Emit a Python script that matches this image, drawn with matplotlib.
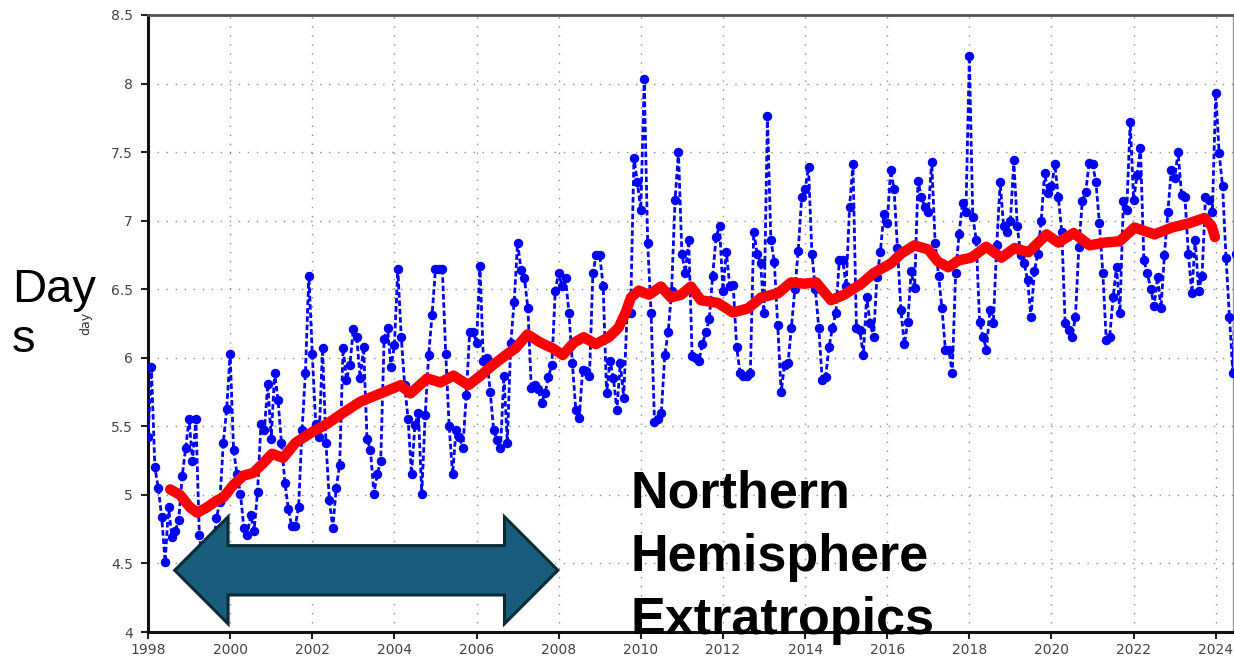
import numpy as np
import matplotlib
matplotlib.use('Agg')
from matplotlib import pyplot as plt
from matplotlib.patches import Polygon

# monthly values, one list per year (Jan..Dec)
v1998 = [5.42, 5.93, 5.2, 5.05, 4.84, 4.51, 4.91, 4.69, 4.74, 4.82, 5.14, 5.34]
v1999 = [5.55, 5.25, 5.55, 4.71, 4.5, 4.4, 4.45, 4.6, 4.83, 4.95, 5.38, 5.63]
v2000 = [6.03, 5.33, 5.15, 5.01, 4.76, 4.71, 4.85, 4.74, 5.02, 5.52, 5.47, 5.81]
v2001 = [5.41, 5.89, 5.69, 5.38, 5.09, 4.9, 4.77, 4.77, 4.91, 5.47, 5.89, 6.6]
v2002 = [6.03, 5.52, 5.42, 6.07, 5.38, 4.96, 4.76, 5.05, 5.22, 6.07, 5.84, 5.95]
v2003 = [6.21, 6.15, 5.85, 6.08, 5.41, 5.33, 5.01, 5.15, 5.25, 6.14, 6.22, 5.93]
v2004 = [6.09, 6.65, 6.15, 5.8, 5.55, 5.15, 5.51, 5.6, 5.01, 5.58, 6.02, 6.31]
v2005 = [6.65, 6.65, 6.65, 6.03, 5.5, 5.15, 5.47, 5.42, 5.34, 5.73, 6.19, 6.19]
v2006 = [6.11, 6.67, 5.98, 6.0, 5.75, 5.47, 5.4, 5.34, 5.87, 5.38, 6.11, 6.41]
v2007 = [6.84, 6.64, 6.58, 6.36, 5.78, 5.8, 5.77, 5.67, 5.74, 5.86, 5.95, 6.49]
v2008 = [6.62, 6.52, 6.58, 6.33, 5.96, 5.62, 5.56, 5.91, 5.9, 5.87, 6.62, 6.75]
v2009 = [6.75, 6.52, 5.74, 5.98, 5.85, 5.62, 5.96, 5.71, 6.33, 6.33, 7.46, 7.28]
v2010 = [7.08, 8.03, 6.84, 6.33, 5.53, 5.55, 5.6, 6.02, 6.19, 6.49, 7.15, 7.5]
v2011 = [6.76, 6.62, 6.86, 6.01, 6.0, 5.98, 6.1, 6.19, 6.28, 6.6, 6.88, 6.96]
v2012 = [6.49, 6.77, 6.52, 6.53, 6.08, 5.89, 5.87, 5.87, 5.89, 6.92, 6.76, 6.69]
v2013 = [6.33, 7.76, 6.86, 6.7, 6.24, 5.75, 5.95, 5.96, 6.22, 6.5, 6.78, 7.17]
v2014 = [7.23, 7.39, 6.76, 6.5, 6.22, 5.84, 5.86, 6.08, 6.22, 6.33, 6.71, 6.71]
v2015 = [6.52, 7.1, 7.41, 6.22, 6.2, 6.02, 6.44, 6.25, 6.15, 6.59, 6.77, 7.05]
v2016 = [6.98, 7.37, 7.23, 6.8, 6.35, 6.1, 6.26, 6.63, 6.51, 7.29, 7.17, 7.1]
v2017 = [7.06, 7.43, 6.84, 6.6, 6.36, 6.06, 6.06, 5.89, 6.62, 6.9, 7.13, 7.06]
v2018 = [8.2, 7.03, 6.86, 6.26, 6.15, 6.06, 6.35, 6.25, 6.82, 7.28, 6.96, 6.92]
v2019 = [7.0, 7.44, 6.96, 6.75, 6.69, 6.57, 6.3, 6.63, 6.76, 7.0, 7.35, 7.2]
v2020 = [7.25, 7.41, 7.17, 6.92, 6.25, 6.2, 6.15, 6.3, 6.81, 7.14, 7.21, 7.42]
v2021 = [7.41, 7.28, 6.98, 6.62, 6.13, 6.15, 6.44, 6.66, 6.33, 7.14, 7.08, 7.72]
v2022 = [7.15, 7.33, 7.53, 6.71, 6.62, 6.5, 6.38, 6.59, 6.36, 6.75, 7.06, 7.37]
v2023 = [7.31, 7.5, 7.19, 7.17, 6.76, 6.47, 6.86, 6.49, 6.6, 7.17, 7.15, 7.06]
v2024 = [7.93, 7.49, 7.25, 6.73, 6.3, 5.89, 6.76]

monthly = (v1998 + v1999 + v2000 + v2001 + v2002 + v2003 + v2004 + v2005 +
           v2006 + v2007 + v2008 + v2009 + v2010 + v2011 + v2012 + v2013 +
           v2014 + v2015 + v2016 + v2017 + v2018 + v2019 + v2020 + v2021 +
           v2022 + v2023 + v2024)
t = 1998 + np.arange(len(monthly)) / 12.0

# red running mean
red_t = [1998.54, 1998.78, 1999.02, 1999.2, 1999.44, 1999.68, 1999.83, 2000.07,
         2000.32, 2000.56, 2000.8, 2001.02, 2001.29, 2001.59, 2001.95, 2002.37,
         2002.76, 2003.17, 2003.66, 2004.15, 2004.39, 2004.8, 2005.12, 2005.44,
         2005.8, 2006.1, 2006.41, 2006.76, 2006.95, 2007.24, 2007.56, 2007.85,
         2008.1, 2008.37, 2008.61, 2008.9, 2009.22, 2009.46, 2009.63, 2009.76,
         2009.95, 2010.2, 2010.49, 2010.73, 2010.98, 2011.22, 2011.46, 2011.88,
         2012.24, 2012.61, 2012.93, 2013.34, 2013.66, 2013.98, 2014.27, 2014.63,
         2014.95, 2015.37, 2015.68, 2016.1, 2016.34, 2016.66, 2017.0, 2017.24,
         2017.49, 2017.73, 2018.05, 2018.41, 2018.78, 2019.1, 2019.44, 2019.88,
         2020.17, 2020.54, 2020.93, 2021.29, 2021.66, 2022.02, 2022.51, 2022.93,
         2023.34, 2023.73, 2023.9, 2023.98]
red_v = [5.04, 5.0, 4.91, 4.87, 4.91, 4.96, 4.98, 5.07,
         5.14, 5.16, 5.23, 5.3, 5.27, 5.38, 5.45, 5.52,
         5.6, 5.68, 5.74, 5.8, 5.74, 5.85, 5.82, 5.87,
         5.8, 5.87, 5.95, 6.03, 6.07, 6.17, 6.11, 6.07,
         6.02, 6.11, 6.15, 6.1, 6.15, 6.22, 6.33, 6.44,
         6.49, 6.46, 6.52, 6.44, 6.46, 6.52, 6.42, 6.4,
         6.33, 6.36, 6.44, 6.47, 6.55, 6.54, 6.55, 6.42,
         6.46, 6.54, 6.62, 6.69, 6.76, 6.82, 6.79, 6.7,
         6.66, 6.71, 6.73, 6.81, 6.73, 6.8, 6.77, 6.9,
         6.84, 6.91, 6.82, 6.84, 6.85, 6.95, 6.9, 6.95,
         6.98, 7.02, 6.96, 6.88]

xticks = list(range(1998, 2025, 2))
yticks = [4, 4.5, 5, 5.5, 6, 6.5, 7, 7.5, 8, 8.5]

# arrow (years / days)
arrow_left = 1998.65
arrow_right = 2007.98
arrow_head = 1.3
arrow_y = 4.45
shaft_half = 0.18
head_half = 0.39

fig = plt.figure(figsize=(12.34, 6.58), dpi=100)
ax = fig.add_axes([148 / 1234, 26 / 658, 1085 / 1234, 617 / 658])

ax.plot(t, monthly, color='#0000ff', ls='--', dashes=(2, 1), lw=2.0,
        marker='o', ms=5.8, zorder=3)
ax.plot(red_t, red_v, color='#ff0000', lw=7.5, solid_capstyle='round',
        solid_joinstyle='round', zorder=4)

ax.set_xlim(1998, 2024.42)
ax.set_ylim(4, 8.5)
ax.set_xticks(xticks)
ax.set_yticks(yticks)
ax.set_yticklabels([f'{v:g}' for v in yticks])
ax.grid(True, color='#8a8a8a', lw=1.0, linestyle=(0, (1, 5.5)))
ax.tick_params(axis='both', labelsize=10, labelcolor='#444444', color='#222222',
               direction='out', length=5, width=1.5)
ax.tick_params(axis='y', pad=6)
ax.tick_params(axis='x', pad=3)

ax.spines['left'].set_linewidth(2.2)
ax.spines['left'].set_color('#111111')
ax.spines['bottom'].set_linewidth(2.2)
ax.spines['bottom'].set_color('#111111')
ax.spines['top'].set_linewidth(2.0)
ax.spines['top'].set_color('#555555')
ax.spines['right'].set_linewidth(1.0)
ax.spines['right'].set_color('#999999')

ax.set_ylabel('day', fontsize=9, color='#333333', labelpad=13)

# double arrow
x0, x1 = arrow_left, arrow_right
pts = [(x0, arrow_y),
       (x0 + arrow_head, arrow_y + head_half),
       (x0 + arrow_head, arrow_y + shaft_half),
       (x1 - arrow_head, arrow_y + shaft_half),
       (x1 - arrow_head, arrow_y + head_half),
       (x1, arrow_y),
       (x1 - arrow_head, arrow_y - head_half),
       (x1 - arrow_head, arrow_y - shaft_half),
       (x0 + arrow_head, arrow_y - shaft_half),
       (x0 + arrow_head, arrow_y - head_half)]
ax.add_patch(Polygon(pts, closed=True, facecolor='#185e7c', edgecolor='#0c2a38',
                     lw=2.2, zorder=6))

# big labels
fig.text(12 / 1234, 1 - 302 / 658, 'Day', fontsize=34, family='Liberation Sans',
         va='baseline', ha='left')
fig.text(12 / 1234, 1 - 352 / 658, 's', fontsize=34, family='Liberation Sans',
         va='baseline', ha='left')
for i, line in enumerate(['Northern', 'Hemisphere', 'Extratropics']):
    fig.text(630 / 1234, 1 - (507 + 63.5 * i) / 658, line, fontsize=37.5,
             family='Liberation Sans', weight='bold', va='baseline', ha='left')

plt.savefig('out.png', dpi=100)
